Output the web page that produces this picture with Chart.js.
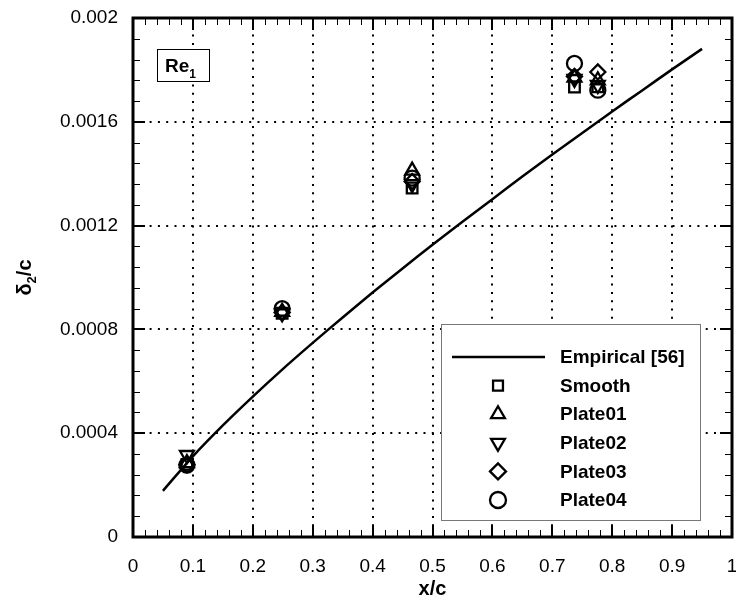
<!DOCTYPE html>
<html>
<head>
<meta charset="utf-8">
<script src="https://cdn.jsdelivr.net/npm/chart.js@4.4.0/dist/chart.umd.min.js"></script>
<style>
  body { margin: 0; background: #fff; }
  canvas { display: block; }
</style>
</head>
<body>
<canvas id="chart" width="736" height="601"></canvas>
<script>
// Measurement stations (x/c)
const stations = [0.09, 0.249, 0.466, 0.737, 0.776];

// delta2/c per surface at each station
const smooth  = [0.000280, 0.000862, 0.001345, 0.001734, 0.001735];
const plate01 = [0.000285, 0.000868, 0.001412, 0.001770, 0.001760];
const plate02 = [0.000316, 0.000862, 0.001360, 0.001765, 0.001742];
const plate03 = [0.000278, 0.000865, 0.001370, 0.001775, 0.001792];
const plate04 = [0.000277, 0.000880, 0.001383, 0.001825, 0.001722];

// Empirical curve [56]
const empX = [0.05, 0.1, 0.15, 0.2, 0.25, 0.3, 0.35, 0.4, 0.45, 0.5,
              0.55, 0.6, 0.65, 0.7, 0.75, 0.8, 0.85, 0.9, 0.95];
const empY = [0.000178, 0.000311, 0.000430, 0.000541, 0.000647, 0.000748,
              0.000846, 0.000942, 0.001035, 0.001126, 0.001215, 0.001302,
              0.001389, 0.001474, 0.001557, 0.001640, 0.001721, 0.001802, 0.001881];

const xTickLabels = ['0', '0.1', '0.2', '0.3', '0.4', '0.5', '0.6', '0.7', '0.8', '0.9', '1'];
const yTickLabels = ['0', '0.0004', '0.0008', '0.0012', '0.0016', '0.002'];

const FONT = '"Liberation Sans", Arial, sans-serif';

function pts(ys) {
  return ys.map((y, i) => ({ x: stations[i], y: y }));
}

function marker(label, data, style, radius, rotation) {
  return {
    label: label,
    data: pts(data),
    showLine: false,
    pointStyle: style,
    pointRadius: radius,
    pointRotation: rotation || 0,
    pointBorderWidth: 2.3,
    pointBorderColor: '#000',
    pointBackgroundColor: 'rgba(0,0,0,0)'
  };
}

const datasets = [
  {
    label: 'Empirical [56]',
    data: empX.map((x, i) => ({ x: x, y: empY[i] })),
    showLine: true,
    borderColor: '#000',
    borderWidth: 2.5,
    pointRadius: 0,
    tension: 0.3
  },
  marker('Smooth', smooth, 'rect', 7.5),
  marker('Plate01', plate01, 'triangle', 8),
  marker('Plate02', plate02, 'triangle', 8, 180),
  marker('Plate03', plate03, 'rectRot', 7.5),
  marker('Plate04', plate04, 'circle', 7.5)
];

// inward major/minor ticks plus the closed frame
const framePlugin = {
  id: 'frame',
  beforeDatasetsDraw(chart) {
    const { ctx, chartArea: a, scales: { x, y } } = chart;
    ctx.save();
    ctx.strokeStyle = '#000';
    // minor ticks
    ctx.lineWidth = 1;
    ctx.beginPath();
    for (let i = 0; i <= 50; i++) {
      if (i % 5 === 0) continue;
      const px = Math.round(x.getPixelForValue(i * 0.02)) + 0.5;
      ctx.moveTo(px, a.bottom); ctx.lineTo(px, a.bottom - 7);
      ctx.moveTo(px, a.top); ctx.lineTo(px, a.top + 7);
    }
    for (let i = 0; i <= 25; i++) {
      if (i % 5 === 0) continue;
      const py = Math.round(y.getPixelForValue(i * 0.00008)) + 0.5;
      ctx.moveTo(a.left, py); ctx.lineTo(a.left + 7, py);
      ctx.moveTo(a.right, py); ctx.lineTo(a.right - 7, py);
    }
    ctx.stroke();
    // major ticks
    ctx.lineWidth = 2;
    ctx.beginPath();
    xTickLabels.forEach(t => {
      const px = Math.round(x.getPixelForValue(+t));
      ctx.moveTo(px, a.bottom); ctx.lineTo(px, a.bottom - 12);
      ctx.moveTo(px, a.top); ctx.lineTo(px, a.top + 12);
    });
    yTickLabels.forEach(t => {
      const py = Math.round(y.getPixelForValue(+t));
      ctx.moveTo(a.left, py); ctx.lineTo(a.left + 12, py);
      ctx.moveTo(a.right, py); ctx.lineTo(a.right - 12, py);
    });
    ctx.stroke();
    ctx.lineWidth = 3;
    ctx.strokeRect(a.left, a.top, a.right - a.left, a.bottom - a.top);
    ctx.restore();
  },
  afterDatasetsDraw(chart) {
    const { ctx, chartArea: a } = chart;
    ctx.save();

    // Re_1 label box
    ctx.fillStyle = '#fff';
    ctx.fillRect(a.left + 24, a.top + 31, 52, 32);
    ctx.strokeStyle = '#000';
    ctx.lineWidth = 1;
    ctx.strokeRect(a.left + 24.5, a.top + 31.5, 52, 32);
    ctx.fillStyle = '#000';
    ctx.textBaseline = 'alphabetic';
    ctx.font = 'bold 19px ' + FONT;
    ctx.fillText('Re', a.left + 32, a.top + 54);
    const reW = ctx.measureText('Re').width;
    ctx.font = 'bold 12px ' + FONT;
    ctx.fillText('1', a.left + 32 + reW, a.top + 60);

    // legend box
    const lx = a.right - 291, ly = a.top + 306, lw = 259, lh = 196;
    ctx.fillStyle = '#fff';
    ctx.fillRect(lx, ly, lw, lh);
    ctx.strokeStyle = '#777';
    ctx.lineWidth = 1;
    ctx.strokeRect(lx + 0.5, ly + 0.5, lw, lh);

    ctx.font = 'bold 19px ' + FONT;
    ctx.textBaseline = 'middle';
    ctx.fillStyle = '#000';
    chart.data.datasets.forEach((ds, i) => {
      const rowY = ly + 33 + i * 28.6;
      if (i === 0) {
        ctx.strokeStyle = '#000';
        ctx.lineWidth = 2.5;
        ctx.beginPath();
        ctx.moveTo(lx + 11, rowY);
        ctx.lineTo(lx + 104, rowY);
        ctx.stroke();
      } else {
        ctx.strokeStyle = '#000';
        ctx.fillStyle = 'rgba(0,0,0,0)';
        ctx.lineWidth = 2.3;
        Chart.helpers.drawPoint(ctx, {
          pointStyle: ds.pointStyle,
          radius: ds.pointStyle === 'rect' ? 7 : 8,
          rotation: ds.pointRotation,
          borderWidth: 2.3
        }, lx + 57, rowY);
        ctx.fillStyle = '#000';
      }
      ctx.fillText(ds.label, lx + 119, rowY + 1);
    });

    // y axis title with subscript
    ctx.translate(24, (a.top + a.bottom) / 2);
    ctx.rotate(-Math.PI / 2);
    ctx.textBaseline = 'alphabetic';
    ctx.font = 'bold 20px ' + FONT;
    const dW = ctx.measureText('\u03b4').width;
    ctx.font = 'bold 13px ' + FONT;
    const sW = ctx.measureText('2').width;
    ctx.font = 'bold 20px ' + FONT;
    const cW = ctx.measureText('/c').width;
    let sx = -(dW + sW + cW) / 2;
    ctx.fillText('\u03b4', sx, 7);
    ctx.font = 'bold 13px ' + FONT;
    ctx.fillText('2', sx + dW, 12);
    ctx.font = 'bold 20px ' + FONT;
    ctx.fillText('/c', sx + dW + sW, 7);

    ctx.restore();
  }
};

new Chart(document.getElementById('chart').getContext('2d'), {
  type: 'scatter',
  data: { datasets: datasets },
  options: {
    responsive: false,
    animation: false,
    layout: { autoPadding: false, padding: { top: 18, right: 4, left: 0, bottom: 0 } },
    plugins: {
      legend: { display: false },
      tooltip: { enabled: false }
    },
    scales: {
      x: {
        type: 'linear',
        min: 0,
        max: 1,
        afterFit(scale) {
          scale.height = 64;
          scale.paddingLeft = 0;
          scale.paddingRight = 0;
        },
        ticks: {
          stepSize: 0.1,
          padding: 18,
          color: '#000',
          font: { family: FONT, size: 19 },
          callback: v => xTickLabels.find(t => Math.abs(+t - v) < 1e-9) ?? ''
        },
        grid: { color: '#000', lineWidth: 2, drawTicks: false },
        border: { display: false, dash: [2, 6.3] },
        title: {
          display: true,
          text: 'x/c',
          color: '#000',
          padding: 0,
          font: { family: FONT, size: 20, weight: 'bold' }
        }
      },
      y: {
        type: 'linear',
        min: 0,
        max: 0.002,
        afterFit(scale) {
          scale.width = 133;
          scale.paddingTop = 0;
          scale.paddingBottom = 0;
        },
        ticks: {
          stepSize: 0.0004,
          padding: 15,
          color: '#000',
          font: { family: FONT, size: 19 },
          callback: v => yTickLabels.find(t => Math.abs(+t - v) < 1e-9) ?? ''
        },
        grid: { color: '#000', lineWidth: 2, drawTicks: false },
        border: { display: false, dash: [2, 6.3] }
      }
    }
  },
  plugins: [framePlugin]
});
</script>
</body>
</html>
